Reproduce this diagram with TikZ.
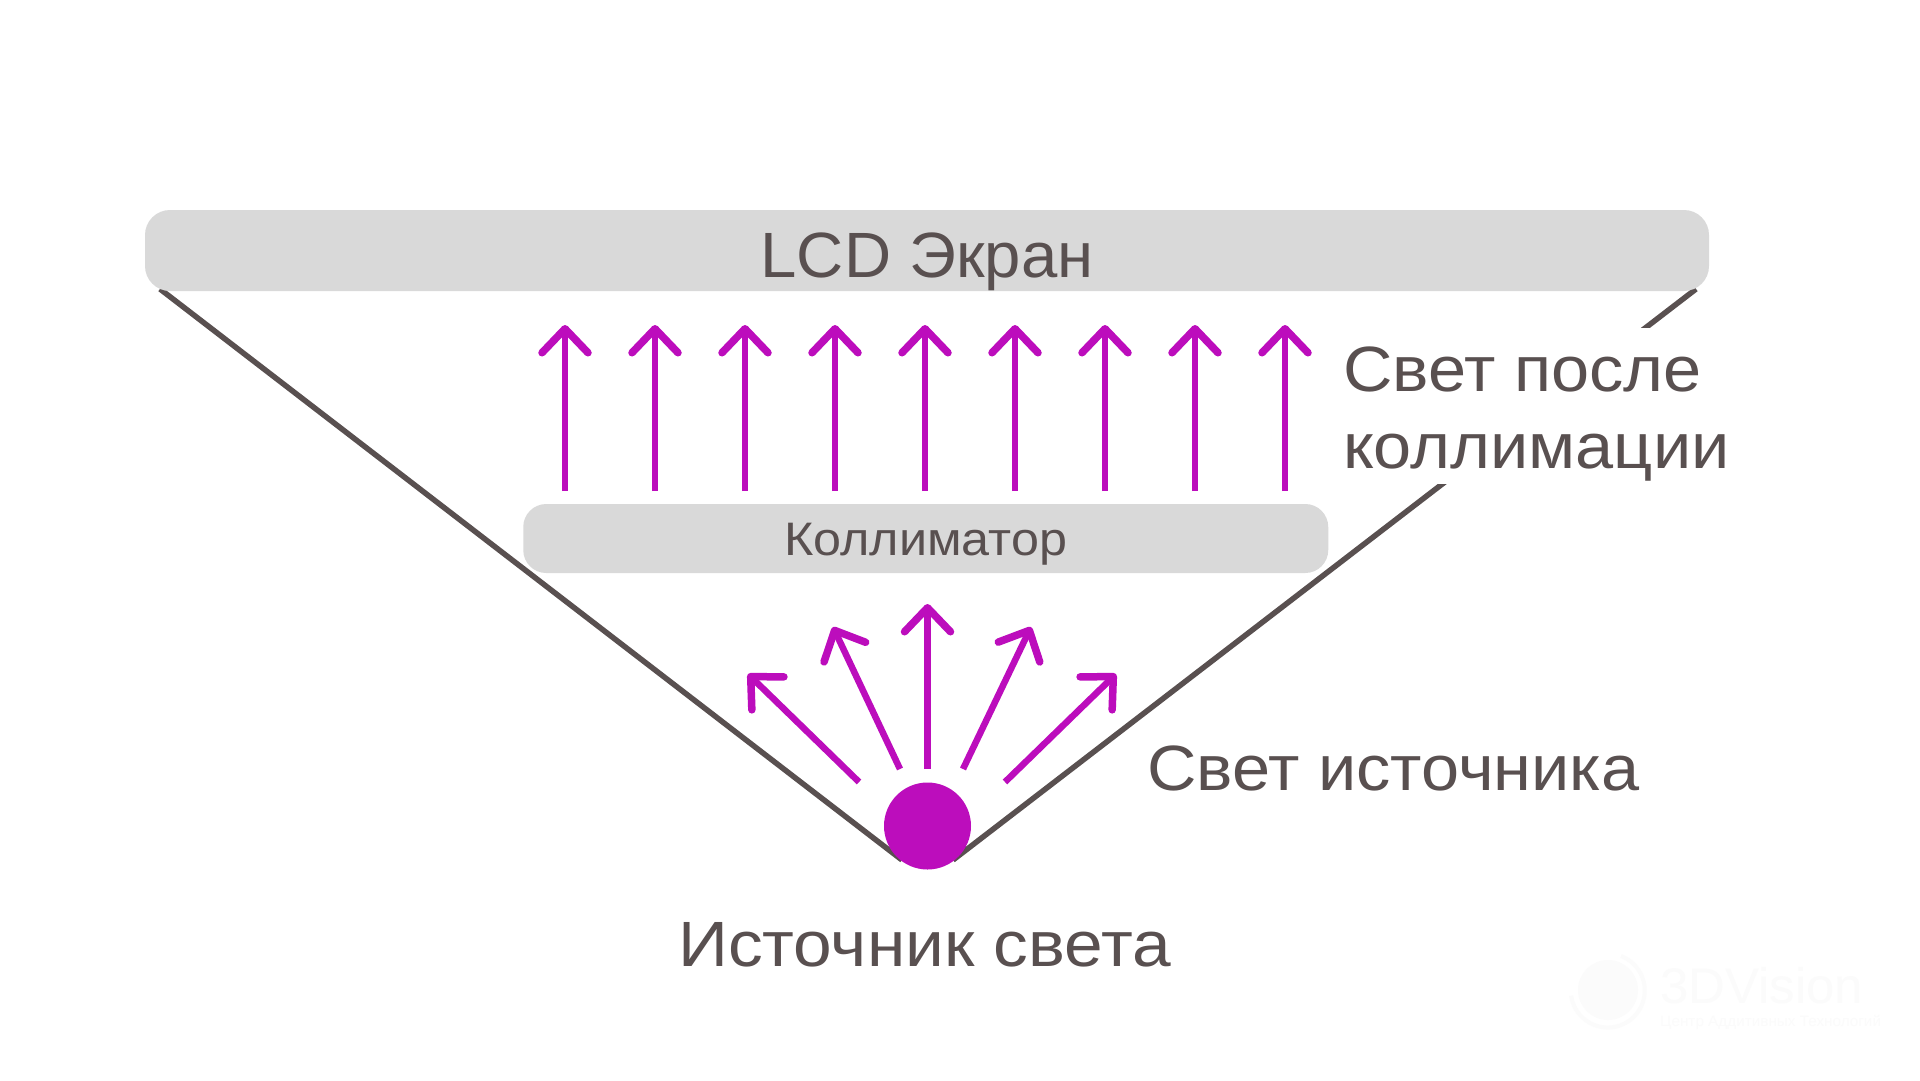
\documentclass[tikz,border=0pt]{standalone}
\usepackage{fontspec}
\setmainfont[FakeStretch=1.07]{Liberation Sans}
\newfontfamily\lcdfont[FakeStretch=1.02]{Liberation Sans}
\newfontfamily\srcfont[FakeStretch=1.085]{Liberation Sans}
\usetikzlibrary{arrows.meta}
\definecolor{ink}{HTML}{595050}
\definecolor{bar}{HTML}{D9D9D9}
\definecolor{ray}{HTML}{BC0DBC}
\definecolor{wm}{HTML}{FBFBFB}
\tikzset{
  edge/.style={draw=ink,line width=5.5pt},
  panel/.style={fill=bar,draw=none,rounded corners=25pt,inner sep=0pt,text=ink,align=center},
  raybase/.style={draw=ray,line width=6.5pt,-{Straight Barb[length=24pt,width=46pt,line width=7.5pt,round]}},
  label/.style={text=ink,inner sep=0pt,anchor=base west,font=\fontsize{64pt}{77pt}\selectfont},
}
\begin{document}
\begin{tikzpicture}[x=1pt,y=-1pt]
\useasboundingbox (0,0) rectangle (1920,1080);
\fill[white] (0,0) rectangle (1920,1080);
% watermark
\node[name=wmdisc,circle,fill=wm,minimum size=60pt,inner sep=0pt] at (1608,990) {};
\draw[wm,line width=4pt] (1621,956) arc (-69:172:37);
\node[name=wmname,text=wm,inner sep=0pt,anchor=base west,font=\lcdfont\fontsize{50pt}{50pt}\selectfont] at (1660,1003) {3DVision};
\node[name=wmsub,text=wm,inner sep=0pt,anchor=base west,font=\lcdfont\fontsize{15pt}{15pt}\selectfont] at (1660,1026) {Центр Аддитивных Технологий};
% cone
\coordinate (ltop) at (160,289);
\coordinate (rtop) at (1696,289);
\coordinate (lfoot) at (902,860);
\coordinate (rfoot) at (953,860);
\draw[edge] (ltop) -- (lfoot);
\draw[edge] (rtop) -- (rfoot);
\node[name=afterbox,fill=white,inner sep=0pt,minimum width=400pt,minimum height=156pt] at (1540,406) {};
% panels
\node[panel,name=lcd,minimum width=1564pt,minimum height=81pt,text height=60pt,text depth=7pt,font=\lcdfont\fontsize{64pt}{64pt}\selectfont] at (927,250.5) {LCD Экран};
\node[panel,name=coll,rounded corners=23pt,minimum width=805pt,minimum height=69pt,text height=40pt,text depth=7pt,font=\fontsize{47pt}{47pt}\selectfont] at (925.75,538.5) {Коллиматор};
% parallel rays
\foreach \i/\x in {1/565,2/655,3/745,4/835,5/925,6/1015,7/1105,8/1195,9/1285}{
  \coordinate (pb\i) at (\x,491);
  \coordinate (pt\i) at (\x,325);
  \draw[raybase] (pb\i) -- (pt\i);
}
% source
\node[name=src,circle,fill=ray,minimum size=87pt,inner sep=0pt] at (927.5,826) {};
% fan rays
\foreach \i/\a/\b/\c/\d in {1/859/782/748/674,2/900/769/833/627,3/927.5/769/927.5/604,4/963/769/1031/627,5/1005/782/1116/674}{
  \coordinate (fb\i) at (\a,\b);
  \coordinate (ft\i) at (\c,\d);
  \draw[raybase] (fb\i) -- (ft\i);
}
% labels
\node[label,align=left] (after) at (1343,468) {Свет после\\коллимации};
\node[label] (fromsrc) at (1147,790) {Свет источника};
\node[label,font=\srcfont\fontsize{64pt}{77pt}\selectfont] (srcname) at (678,966) {Источник света};
\end{tikzpicture}
\end{document}
